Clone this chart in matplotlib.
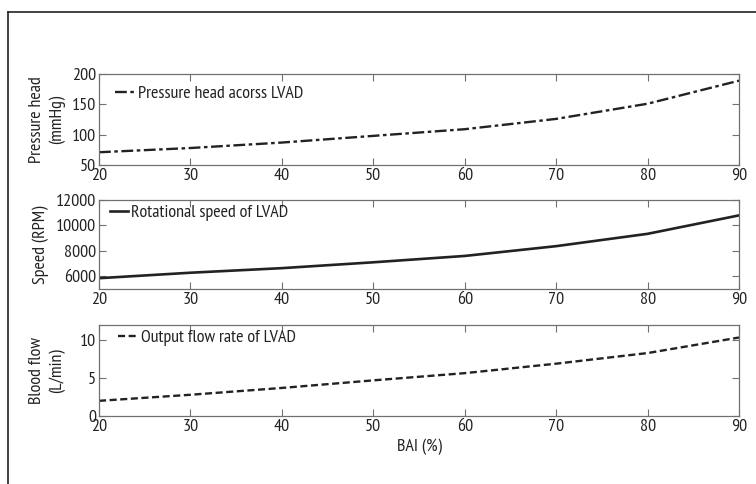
import numpy as np
import matplotlib
matplotlib.use("Agg")
import matplotlib.pyplot as plt
from matplotlib.lines import Line2D

# data
bai = [20, 30, 40, 50, 60, 70, 80, 90]
pressure_head = [71, 78, 87, 98, 109, 126, 151, 189]
speed_rpm = [5850, 6280, 6640, 7100, 7600, 8370, 9340, 10790]
blood_flow = [2.0, 2.8, 3.7, 4.7, 5.65, 6.9, 8.3, 10.35]
x_ticks = [20, 30, 40, 50, 60, 70, 80, 90]

plt.rcParams['font.family'] = ['PT Sans Narrow', 'Fira Sans Condensed',
                               'Asap Condensed', 'Archivo Narrow', 'DejaVu Sans']
plt.rcParams['font.size'] = 12

INK = '#222222'
SPINE = '#707070'

fig = plt.figure(figsize=(7.56, 4.84), dpi=100)
W, H = 756, 484

def px_axes(left, top, right, bottom):
    return fig.add_axes([left / W, 1 - bottom / H, (right - left) / W, (bottom - top) / H])

ax1 = px_axes(99, 74, 739, 165)
ax2 = px_axes(99, 200, 739, 289)
ax3 = px_axes(99, 325, 739, 416)

ax1.plot(bai, pressure_head, color=INK, lw=1.7, dashes=(5, 1.5, 1.5, 1.5),
         label='Pressure head acorss LVAD')
ax2.plot(bai, speed_rpm, color=INK, lw=1.9, label='Rotational speed of LVAD')
ax3.plot(bai, blood_flow, color=INK, lw=1.7, dashes=(3, 1.5),
         label='Output flow rate of LVAD')

ax1.set_ylim(50, 200)
ax1.set_yticks([50, 100, 150, 200])
ax2.set_ylim(5000, 12000)
ax2.set_yticks([6000, 8000, 10000, 12000])
ax3.set_ylim(0, 12)
ax3.set_yticks([0, 5, 10])

ax1.set_ylabel('Pressure head\n(mmHg)', color=INK, linespacing=1.3, fontsize=13)
ax2.set_ylabel('Speed (RPM)', color=INK, fontsize=13)
ax3.set_ylabel('Blood flow\n(L/min)', color=INK, linespacing=1.3, fontsize=13)
ax1.yaxis.set_label_coords(-0.053, 0.5)
ax2.yaxis.set_label_coords(-0.078, 0.5)
ax3.yaxis.set_label_coords(-0.053, 0.5)
ax3.set_xlabel('BAI (%)', color=INK, labelpad=3, fontsize=13)

legend_spots = {ax1: (0.025, 0.87, 1.1), ax2: (0.017, 0.95, 1.0), ax3: (0.030, 0.95, 1.1)}

for ax in (ax1, ax2, ax3):
    ax.set_xlim(20, 90)
    ax.set_xticks(x_ticks)
    ax.tick_params(direction='in', top=True, right=True, length=5, width=0.8,
                   color=SPINE, labelcolor=INK, labelsize=13, pad=2)
    for s in ax.spines.values():
        s.set_color(SPINE)
        s.set_linewidth(0.9)
    lx, ly, hl = legend_spots[ax]
    leg = ax.legend(loc='upper left', bbox_to_anchor=(lx, ly), frameon=False,
                    handlelength=hl, handletextpad=0.15, borderaxespad=0,
                    borderpad=0, fontsize=13)
    for t in leg.get_texts():
        t.set_color(INK)

# outer frame (top and left edges only visible)
fig.add_artist(Line2D([8 / W, 8 / W], [0, 1 - 12 / H], color='#222222', lw=1.2,
                      transform=fig.transFigure))
fig.add_artist(Line2D([8 / W, 1], [1 - 12 / H, 1 - 12 / H], color='#222222', lw=1.2,
                      transform=fig.transFigure))

fig.savefig('out.png', dpi=100)
